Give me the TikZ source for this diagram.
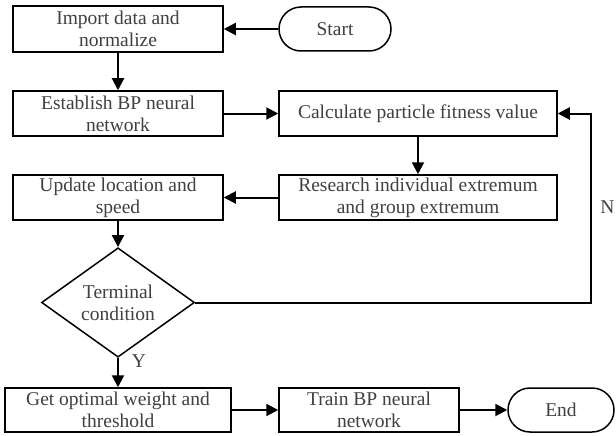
\documentclass[tikz,border=0pt]{standalone}
\usepackage{fontspec}
\setmainfont{Liberation Serif}
\usetikzlibrary{arrows.meta,shapes.geometric}
\definecolor{txt}{RGB}{64,64,64}
\begin{document}
\begin{tikzpicture}[x=1pt,y=-1pt,
  every node/.style={font=\fontsize{19.5}{22}\selectfont, text=txt, inner sep=0pt, align=center},
  box/.style={draw=black, line width=1.5pt, rectangle},
  pill/.style={draw=black, line width=1.5pt, rectangle, rounded corners=22pt},
  dec/.style={draw=black, line width=1.5pt, diamond, minimum width=153pt, minimum height=85pt},
  arr/.style={draw=black, line width=2pt, -{Triangle[length=12pt,width=12pt]}},
  lab/.style={}]
\useasboundingbox (0,0) rectangle (616,436);
\fill[white] (0,0) rectangle (616,436);

\node[box, minimum width=210pt, minimum height=46pt] (imp) at (118,29) {Import data and\\normalize};
\node[pill, minimum width=112pt, minimum height=44pt] (start) at (335,29) {Start};
\node[box, minimum width=210pt, minimum height=45pt] (est) at (118,113.5) {Establish BP neural\\network};
\node[box, minimum width=278pt, minimum height=45pt] (calc) at (418,113.5) {Calculate particle fitness value};
\node[box, minimum width=278pt, minimum height=45pt] (res) at (418,197.5) {Research individual extremum\\and group extremum};
\node[box, minimum width=210pt, minimum height=45pt] (upd) at (118,197.5) {Update location and\\speed};
\node[dec] (dia) at (118,302.5) {Terminal\\condition};
\node[box, minimum width=226pt, minimum height=44pt] (get) at (118,410) {Get optimal weight and\\threshold};
\node[box, minimum width=180pt, minimum height=44pt] (train) at (369,410) {Train BP neural\\network};
\node[pill, minimum width=106pt, minimum height=44pt] (end) at (561,410) {End};

\coordinate (fb) at (591,302.5);

\draw[arr] (start) -- (imp);
\draw[arr] (imp) -- (est);
\draw[arr] (est) -- (calc);
\draw[arr] (calc) -- (res);
\draw[arr] (res) -- (upd);
\draw[arr] (upd) -- (dia);
\draw[arr] (dia) -- (get);
\draw[arr] (get) -- (train);
\draw[arr] (train) -- (end);
\draw[arr] (dia.east) -- (fb) |- (calc.east);
\node[lab] (y) at (139,361) {Y};
\node[lab] (n) at (607.5,207) {N};
\end{tikzpicture}
\end{document}
